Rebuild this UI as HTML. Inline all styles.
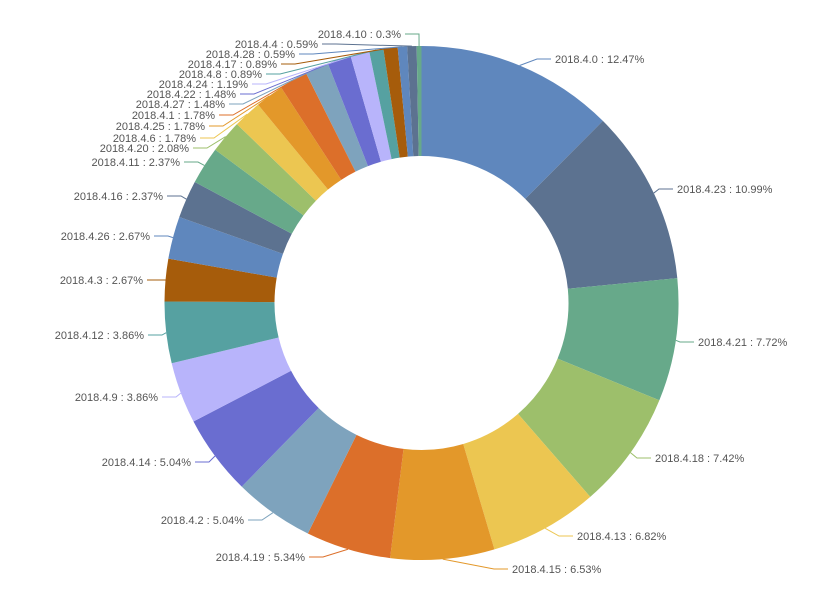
<!DOCTYPE html>
<html><head><meta charset="utf-8"><style>
html,body{margin:0;padding:0;background:#fff;}
svg text{font-family:"Liberation Sans",sans-serif;font-size:11px;fill:#555;}
</style></head><body>
<svg id="chart" width="840" height="600" viewBox="0 0 840 600" xmlns="http://www.w3.org/2000/svg">
<g id="slices"></g>
<g id="labels"></g>
</svg>
<script>
const categories = ['2018.4.0','2018.4.23','2018.4.21','2018.4.18','2018.4.13','2018.4.15','2018.4.19','2018.4.2','2018.4.14','2018.4.9','2018.4.12','2018.4.3','2018.4.26','2018.4.16','2018.4.11','2018.4.20','2018.4.6','2018.4.25','2018.4.1','2018.4.27','2018.4.22','2018.4.24','2018.4.8','2018.4.17','2018.4.28','2018.4.4','2018.4.10'];
const values = [12.47,10.99,7.72,7.42,6.82,6.53,5.34,5.04,5.04,3.86,3.86,2.67,2.67,2.37,2.37,2.08,1.78,1.78,1.78,1.48,1.48,1.19,0.89,0.89,0.59,0.59,0.3];
const palette = ['#5f87bd','#5c7290','#67a98a','#9dbf6b','#ecc651','#e3982a','#dc6f2a','#7ea3bd','#6a6dd0','#b8b4fb','#56a1a1','#a65c0b'];
// label layout (side: 1 right, -1 left; x = text start for right / text end for left)
const labelX = [555,677,698,655,577,512,305,244,191,158,144,143,150,163,180,189,196,205,215,225,236,248,262,277,295,318,401];
const labelY = [59,189,342,458,536,569,557,520,462,397,335,280,236,196,162,148,138,126,115,104,94,84,74,64,54,44,34];

const cx=421.5, cy=303, R=257, r=147;
const NS='http://www.w3.org/2000/svg';
const gS=document.getElementById('slices'), gL=document.getElementById('labels');
const total=values.reduce((a,b)=>a+b,0);
function pt(a,rad){return [cx+rad*Math.sin(a), cy-rad*Math.cos(a)];}
let acc=0;
values.forEach((v,i)=>{
  const a0=acc/total*2*Math.PI; acc+=v; const a1=acc/total*2*Math.PI;
  const large=(a1-a0)>Math.PI?1:0;
  const p0=pt(a0,R),p1=pt(a1,R),q1=pt(a1,r),q0=pt(a0,r);
  const col=palette[i%palette.length];
  const path=document.createElementNS(NS,'path');
  path.setAttribute('d',`M${p0[0]},${p0[1]} A${R},${R} 0 ${large} 1 ${p1[0]},${p1[1]} L${q1[0]},${q1[1]} A${r},${r} 0 ${large} 0 ${q0[0]},${q0[1]} Z`);
  path.setAttribute('fill',col);
  
  
  gS.appendChild(path);
  // label
  const am=(a0+a1)/2; const s=pt(am,R);
  const side = Math.sin(am)>=0?1:-1;
  const ly=labelY[i], lx=labelX[i];
  const endX = lx - side*4;
  const elbowX = endX - side*14;
  const line=document.createElementNS(NS,'polyline');
  line.setAttribute('points',`${s[0]},${s[1]} ${elbowX},${ly} ${endX},${ly}`);
  line.setAttribute('fill','none');
  line.setAttribute('stroke',col);
  line.setAttribute('stroke-width','1');
  
  
  gL.appendChild(line);
  const t=document.createElementNS(NS,'text');
  t.setAttribute('x',lx); t.setAttribute('y',ly+4);
  t.setAttribute('text-anchor',side>0?'start':'end');
  t.textContent=categories[i]+' : '+v+'%';
  
  
  gL.appendChild(t);
});
</script>
</body></html>
